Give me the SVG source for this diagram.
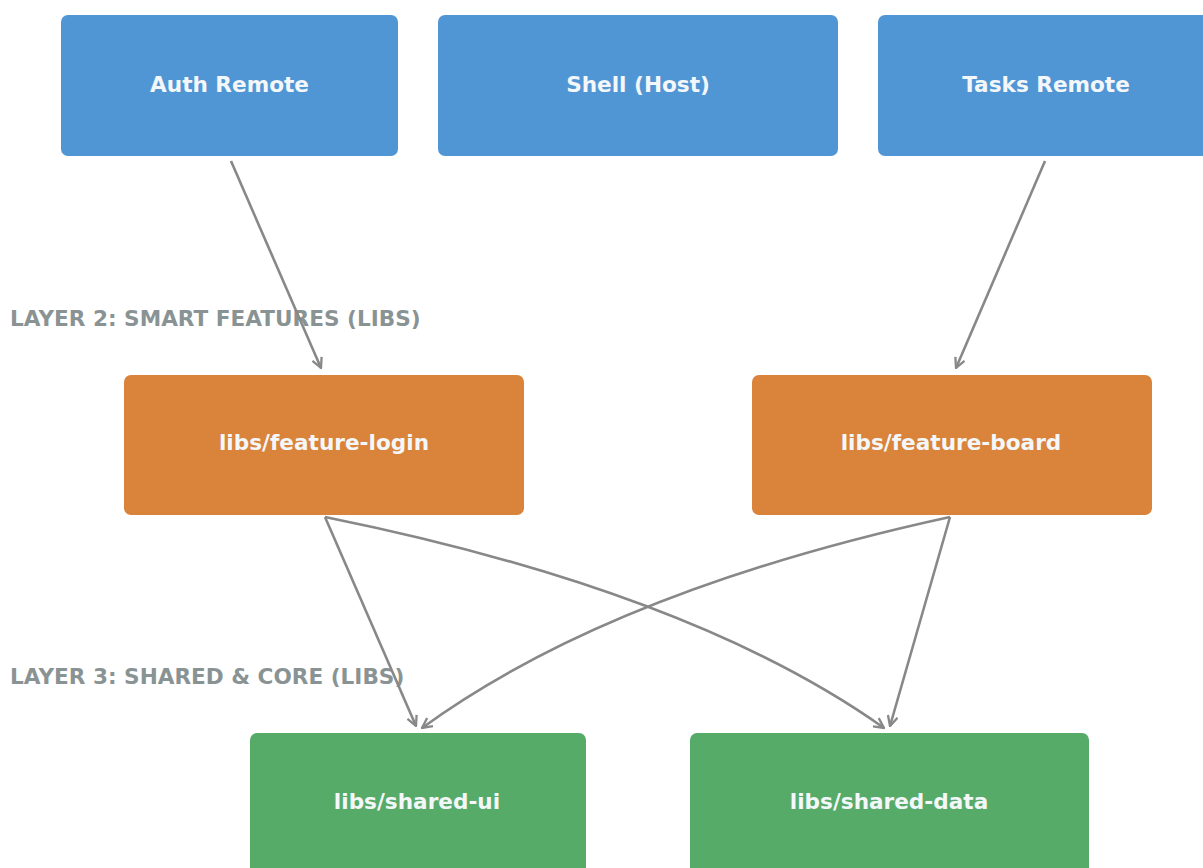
<svg xmlns="http://www.w3.org/2000/svg" width="1203" height="868" viewBox="0 0 1203 868">
<style>
.box{stroke:none}
.blue{fill:#5196D4}
.orange{fill:#D9833B}
.green{fill:#57AB68}
.lbl{font-family:"DejaVu Sans",sans-serif;font-weight:bold;font-size:21.6px;fill:#F4F7FA;text-anchor:middle}
.layer{font-family:"DejaVu Sans",sans-serif;font-weight:bold;font-size:21.6px;fill:#8A9394}
.edge{fill:none;stroke:#888888;stroke-width:2.6;marker-end:url(#arr)}
</style>
<defs>
<marker id="arr" viewBox="0 0 12 12" refX="11" refY="6" markerWidth="12" markerHeight="12" markerUnits="userSpaceOnUse" orient="auto">
<path d="M1,1 L11,6 L1,11" fill="none" stroke="#888888" stroke-width="2.3"/>
</marker>
</defs>
<rect width="1203" height="868" fill="#ffffff"/>
<text class="layer" x="10" y="326">LAYER 2: SMART FEATURES (LIBS)</text>
<text class="layer" x="10" y="684">LAYER 3: SHARED &amp; CORE (LIBS)</text>
<g id="auth-remote"><rect class="box blue" x="61" y="15" width="337" height="141" rx="7"/><text class="lbl" x="229.5" y="92">Auth Remote</text></g>
<g id="shell-host"><rect class="box blue" x="438" y="15" width="400" height="141" rx="7"/><text class="lbl" x="638" y="92">Shell (Host)</text></g>
<g id="tasks-remote"><rect class="box blue" x="878" y="15" width="337" height="141" rx="7"/><text class="lbl" x="1046" y="92">Tasks Remote</text></g>
<g id="feature-login"><rect class="box orange" x="124" y="375" width="400" height="140" rx="7"/><text class="lbl" x="324" y="450">libs/feature-login</text></g>
<g id="feature-board"><rect class="box orange" x="752" y="375" width="400" height="140" rx="7"/><text class="lbl" x="951" y="450">libs/feature-board</text></g>
<g id="shared-ui"><rect class="box green" x="250" y="733" width="336" height="145" rx="7"/><text class="lbl" x="417" y="809">libs/shared-ui</text></g>
<g id="shared-data"><rect class="box green" x="690" y="733" width="399" height="145" rx="7"/><text class="lbl" x="889" y="809">libs/shared-data</text></g>
<g id="connectors">
<path class="edge" d="M231,161 L321,368"/>
<path class="edge" d="M1045,161 L956,368"/>
<path class="edge" d="M325,517 L416,726"/>
<path class="edge" d="M325,517 Q691,591 884,728"/>
<path class="edge" d="M950,517 Q610,591 422,728"/>
<path class="edge" d="M950,517 L890,726"/>
</g>
</svg>
